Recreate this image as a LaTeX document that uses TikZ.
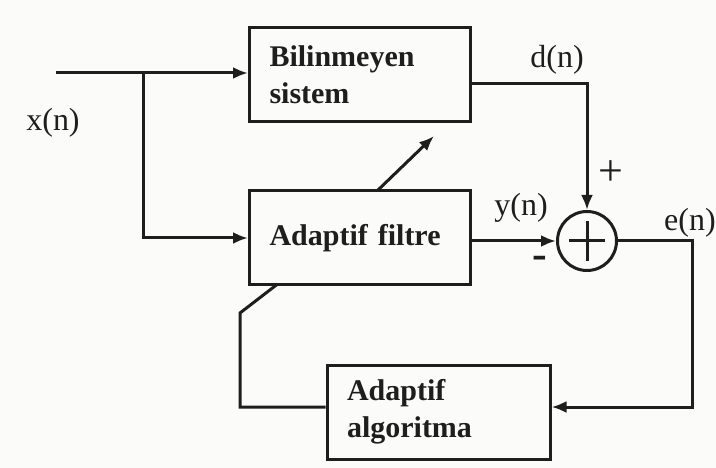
\documentclass[tikz,border=0pt]{standalone}
\usepackage{fontspec}
\setmainfont{Liberation Serif}
\usetikzlibrary{arrows.meta}
\definecolor{ink}{RGB}{30,30,30}
\definecolor{paper}{RGB}{251,251,249}
\begin{document}
\begin{tikzpicture}[x=1pt,y=-1pt,
  line/.style={draw=ink, line width=3pt},
  arr/.style={line, -{Latex[length=15pt,width=12pt]}},
  blockbox/.style={line, rectangle, minimum height=94pt, text width=181pt,
    inner xsep=20pt, align=left, text=ink,
    font=\fontsize{30}{37}\selectfont\bfseries},
  lbl/.style={font=\fontsize{32}{38}\selectfont, text=ink, inner sep=0pt},
]
\fill[paper] (0,0) rectangle (716,468);
\useasboundingbox (0,0) rectangle (716,468);

% blocks
\node[blockbox] (bil) at (360,75) {Bilinmeyen\\sistem};
\node[blockbox] (filt) at (360,238) {Adaptif filtre};
\node[blockbox, text width=183pt] (alg) at (438.5,412) {Adaptif\\algoritma};
\node[line, circle, minimum size=59pt, inner sep=0pt] (sum) at (587,241) {};
\draw[line] ([xshift=-18pt]sum.center) -- ([xshift=18pt]sum.center);
\draw[line] ([yshift=-20pt]sum.center) -- ([yshift=20pt]sum.center);

% coordinates
\coordinate (in) at (56,73);
\coordinate (br) at (143,73);
\coordinate (er) at (692,407);
\coordinate (fl) at (240,407);
\coordinate (fk) at (240,313);
\coordinate (fb) at (277,284.5);
\coordinate (ds) at (377,191);
\coordinate (de) at (434,136);

% connectors
\draw[arr] (in) -- (in -| bil.west);
\draw[arr] (br) |- (filt.west);
\draw[arr] ([yshift=-9pt]bil.east) -| (sum.north);
\draw[arr] (filt.east |- sum.west) -- (sum.west);
\draw[arr] (sum.east) -| (er) -- (er -| alg.east);
\draw[line] (alg.west |- er) -- (fl) -- (fk) -- (fb);
\draw[arr] (ds) -- (de);

% labels
\node[lbl] (lx) at (53,123) {x(n)};
\node[lbl] (ld) at (557,60) {d(n)};
\node[lbl] (ly) at (521,208) {y(n)};
\node[lbl] (le) at (690,223) {e(n)};
\node[lbl, font=\fontsize{44}{44}\selectfont] (lp) at (611,173) {+};
\node[lbl, font=\fontsize{44}{44}\selectfont\bfseries] (lm) at (540,262) {-};
\end{tikzpicture}
\end{document}
